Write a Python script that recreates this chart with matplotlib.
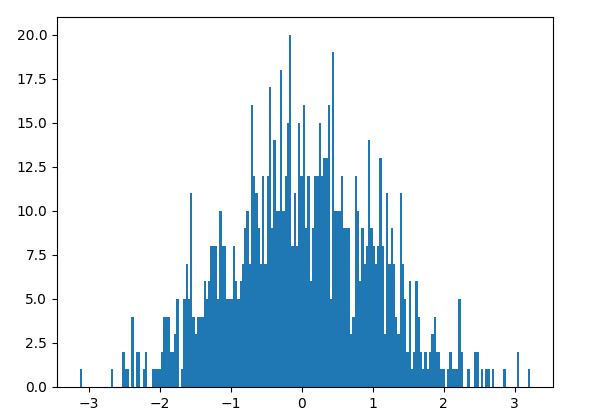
import numpy as np
import matplotlib
matplotlib.use("Agg")
import matplotlib.pyplot as plt

# range of the data and number of bins
x_min, x_max = -3.129, 3.221
n_bins = 200

# counts per bin (left to right)
counts = [
    1, 0, 0, 0, 0, 0, 0, 0, 0, 0, 0, 0, 0, 0, 1, 0, 0, 0, 0, 2,
    1, 1, 0, 4, 0, 2, 2, 0, 1, 2, 0, 0, 1, 1, 1, 1, 2, 4, 4, 4,
    2, 2, 3, 5, 0, 1, 5, 7, 5, 11, 4, 3, 4, 4, 4, 6, 5, 6, 8, 8,
    8, 5, 10, 8, 8, 5, 5, 5, 8, 6, 5, 6, 7, 9, 10, 7, 16, 12, 11, 9,
    7, 12, 7, 12, 17, 9, 14, 10, 10, 18, 10, 12, 15, 20, 8, 11, 8, 15, 12, 16,
    9, 12, 6, 9, 12, 12, 15, 12, 13, 13, 16, 5, 19, 10, 10, 10, 12, 9, 9, 9,
    3, 4, 12, 10, 6, 9, 7, 8, 14, 9, 8, 7, 8, 13, 8, 3, 11, 7, 9, 7,
    4, 3, 11, 7, 5, 2, 6, 1, 2, 6, 4, 2, 1, 2, 1, 2, 3, 4, 2, 2,
    1, 1, 0, 1, 2, 1, 1, 1, 5, 2, 0, 0, 1, 0, 0, 2, 2, 0, 1, 0,
    1, 1, 0, 1, 0, 0, 0, 0, 1, 0, 0, 0, 0, 0, 2, 0, 0, 0, 0, 1,
]

edges = np.linspace(x_min, x_max, n_bins + 1)
centers = (edges[:-1] + edges[1:]) / 2

fig = plt.figure(figsize=(5.9, 4.18), dpi=100)
ax = fig.add_axes([57 / 590, 31 / 418, 496 / 590, 370 / 418])
ax.hist(centers, bins=edges, weights=counts)

fig.savefig("out.png", dpi=100)
